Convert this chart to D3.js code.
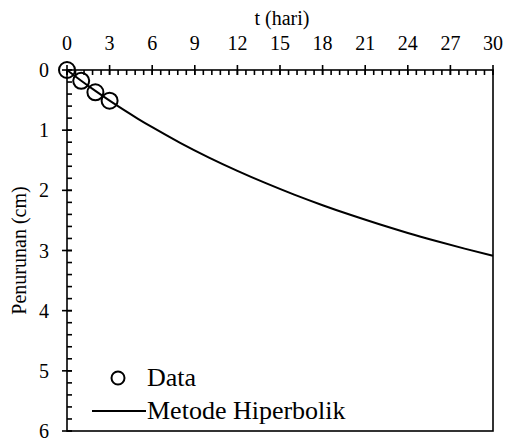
<!DOCTYPE html>
<html>
<head>
<meta charset="utf-8">
<script src="https://cdn.jsdelivr.net/npm/d3@7"></script>
<style>
  body { margin: 0; background: #fff; }
</style>
</head>
<body>
<div class="Canvas"></div>
<script>
// measured points
const dataT = [0, 1, 2, 3];
const dataS = [0, 0.18, 0.37, 0.51];

// hyperbolic fit curve
const fitT = [0, 1, 2, 3, 4, 5, 6, 8, 10, 12, 14, 16, 18, 20, 22, 24, 26, 28, 30];
const fitS = [0, 0.179, 0.348, 0.51, 0.664, 0.811, 0.951, 1.214, 1.455, 1.676, 1.881, 2.071, 2.247, 2.411, 2.564, 2.708, 2.842, 2.969, 3.088];

const xTicks = [0, 3, 6, 9, 12, 15, 18, 21, 24, 27, 30];
const yTicks = [0, 1, 2, 3, 4, 5, 6];
const legendLabels = ['Data', 'Metode Hiperbolik'];

const width = 506;
const height = 438;
const plotLeft = 67;
const plotRight = 493;
const plotTop = 70;
const plotBottom = 431;
const stroke = 1.6;
const fontFamily = 'Liberation Serif, DejaVu Serif, serif';

const svg = d3.select('.Canvas').append('svg')
  .attr('width', width)
  .attr('height', height)
  .attr('font-family', fontFamily)
  .style('display', 'block');

const x = d3.scaleLinear().domain([0, 30]).range([plotLeft, plotRight]);
const y = d3.scaleLinear().domain([0, 6]).range([plotTop, plotBottom]);

const xMinor = d3.range(0, 30.001, 0.6);
const yMinor = d3.range(0, 6.001, 0.2);

const g = svg.append('g');

// minor ticks (inside only)
g.selectAll('line.xminor')
  .data(xMinor)
  .enter()
  .append('line')
  .attr('x1', (d) => x(d))
  .attr('x2', (d) => x(d))
  .attr('y1', plotTop)
  .attr('y2', plotTop + 5)
  .attr('stroke', 'black')
  .attr('stroke-width', stroke);
g.selectAll('line.yminor')
  .data(yMinor)
  .enter()
  .append('line')
  .attr('x1', plotLeft)
  .attr('x2', plotLeft + 5)
  .attr('y1', (d) => y(d))
  .attr('y2', (d) => y(d))
  .attr('stroke', 'black')
  .attr('stroke-width', stroke);

// major ticks (cross)
g.selectAll('line.xmajor')
  .data(xTicks)
  .enter()
  .append('line')
  .attr('x1', (d) => x(d))
  .attr('x2', (d) => x(d))
  .attr('y1', plotTop - 5)
  .attr('y2', plotTop + 5)
  .attr('stroke', 'black')
  .attr('stroke-width', stroke);
g.selectAll('line.ymajor')
  .data(yTicks)
  .enter()
  .append('line')
  .attr('x1', plotLeft - 5)
  .attr('x2', plotLeft + 5)
  .attr('y1', (d) => y(d))
  .attr('y2', (d) => y(d))
  .attr('stroke', 'black')
  .attr('stroke-width', stroke);

// frame
g.append('rect')
  .attr('x', plotLeft)
  .attr('y', plotTop)
  .attr('width', plotRight - plotLeft)
  .attr('height', plotBottom - plotTop)
  .attr('fill', 'none')
  .attr('stroke', 'black')
  .attr('stroke-width', stroke);

// tick labels
g.selectAll('text.xlab')
  .data(xTicks)
  .enter()
  .append('text')
  .attr('x', (d) => x(d))
  .attr('y', plotTop - 20)
  .attr('text-anchor', 'middle')
  .attr('font-size', '20px')
  .text((d) => d);
g.selectAll('text.ylab')
  .data(yTicks)
  .enter()
  .append('text')
  .attr('x', plotLeft - 18)
  .attr('y', (d) => y(d) + 7)
  .attr('text-anchor', 'end')
  .attr('font-size', '20px')
  .text((d) => d);

// axis titles
svg.append('text')
  .attr('x', (plotLeft + plotRight) / 2 + 2)
  .attr('y', 25)
  .attr('text-anchor', 'middle')
  .attr('font-size', '20px')
  .text('t (hari)');
svg.append('text')
  .attr('transform', `translate(26, ${(plotTop + plotBottom) / 2}) rotate(-90)`)
  .attr('text-anchor', 'middle')
  .attr('font-size', '20px')
  .text('Penurunan (cm)');

// fit curve
const line = d3.line()
  .x((d, i) => x(fitT[i]))
  .y((d) => y(d))
  .curve(d3.curveMonotoneX);
g.append('path')
  .attr('d', line(fitS))
  .attr('fill', 'none')
  .attr('stroke', 'black')
  .attr('stroke-width', 2);

// data circles
g.selectAll('circle.pt')
  .data(dataS)
  .enter()
  .append('circle')
  .attr('cx', (d, i) => x(dataT[i]))
  .attr('cy', (d) => y(d))
  .attr('r', 8)
  .attr('fill', 'none')
  .attr('stroke', 'black')
  .attr('stroke-width', 2);

// legend
const leg = svg.append('g');
leg.append('circle')
  .attr('cx', 118)
  .attr('cy', 378)
  .attr('r', 6.5)
  .attr('fill', 'none')
  .attr('stroke', 'black')
  .attr('stroke-width', 2);
leg.append('line')
  .attr('x1', 92)
  .attr('x2', 146)
  .attr('y1', 411)
  .attr('y2', 411)
  .attr('stroke', 'black')
  .attr('stroke-width', 2);
leg.selectAll('text')
  .data(legendLabels)
  .enter()
  .append('text')
  .attr('x', 147)
  .attr('y', (d, i) => 386 + i * 33)
  .attr('font-size', '26px')
  .text((d) => d);
</script>
</body>
</html>
